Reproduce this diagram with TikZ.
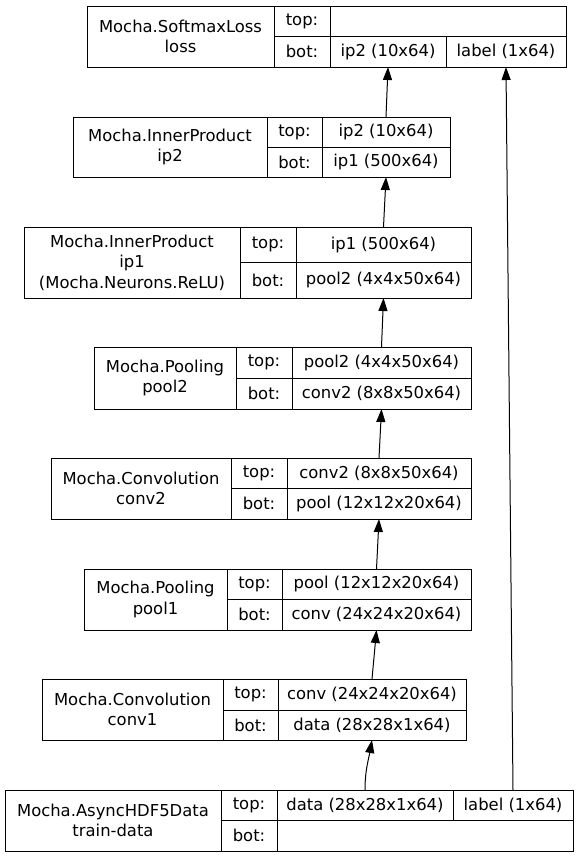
\documentclass[tikz,border=0pt]{standalone}
\usepackage{fontspec}
\setmainfont{DejaVu Sans}
\usetikzlibrary{arrows.meta}
\begin{document}
\begin{tikzpicture}[x=1pt,y=-1pt,line width=1pt,
  cell/.style={draw,inner sep=0pt,outer sep=0pt,anchor=north west,align=center,
    font=\fontsize{16.4}{20.5}\selectfont},
  arr/.style={-{Triangle[length=13pt,width=9pt]}}]
\useasboundingbox (0,0) rectangle (579,857);
\node[cell,minimum width=187,minimum height=61] (loss) at (87,6) {Mocha.SoftmaxLoss\\loss};
\node[cell,minimum width=56,minimum height=30] (loss-top) at (274,6) {top:};
\node[cell,minimum width=56,minimum height=31] (loss-bot) at (274,36) {bot:};
\node[cell,minimum width=236,minimum height=30] (loss-t1) at (330,6) {};
\node[cell,minimum width=116,minimum height=31] (loss-b1) at (330,36) {ip2 (10x64)};
\node[cell,minimum width=120,minimum height=31] (loss-b2) at (446,36) {label (1x64)};
\node[cell,minimum width=194,minimum height=60] (ip2) at (73,117) {Mocha.InnerProduct\\ip2};
\node[cell,minimum width=55,minimum height=30] (ip2-top) at (267,117) {top:};
\node[cell,minimum width=55,minimum height=30] (ip2-bot) at (267,147) {bot:};
\node[cell,minimum width=128,minimum height=30] (ip2-t1) at (322,117) {ip2 (10x64)};
\node[cell,minimum width=128,minimum height=30] (ip2-b1) at (322,147) {ip1 (500x64)};
\node[cell,minimum width=216,minimum height=71] (ip1) at (24,227) {Mocha.InnerProduct\\ip1\\(Mocha.Neurons.ReLU)};
\node[cell,minimum width=56,minimum height=35] (ip1-top) at (240,227) {top:};
\node[cell,minimum width=56,minimum height=36] (ip1-bot) at (240,262) {bot:};
\node[cell,minimum width=175,minimum height=35] (ip1-t1) at (296,227) {ip1 (500x64)};
\node[cell,minimum width=175,minimum height=36] (ip1-b1) at (296,262) {pool2 (4x4x50x64)};
\node[cell,minimum width=142,minimum height=62] (pool2) at (94,347) {Mocha.Pooling\\pool2};
\node[cell,minimum width=56,minimum height=31] (pool2-top) at (236,347) {top:};
\node[cell,minimum width=56,minimum height=31] (pool2-bot) at (236,378) {bot:};
\node[cell,minimum width=179,minimum height=31] (pool2-t1) at (292,347) {pool2 (4x4x50x64)};
\node[cell,minimum width=179,minimum height=31] (pool2-b1) at (292,378) {conv2 (8x8x50x64)};
\node[cell,minimum width=180,minimum height=61] (conv2) at (51,458) {Mocha.Convolution\\conv2};
\node[cell,minimum width=56,minimum height=30] (conv2-top) at (231,458) {top:};
\node[cell,minimum width=56,minimum height=31] (conv2-bot) at (231,488) {bot:};
\node[cell,minimum width=184,minimum height=30] (conv2-t1) at (287,458) {conv2 (8x8x50x64)};
\node[cell,minimum width=184,minimum height=31] (conv2-b1) at (287,488) {pool (12x12x20x64)};
\node[cell,minimum width=143,minimum height=61] (pool1) at (84,569) {Mocha.Pooling\\pool1};
\node[cell,minimum width=55,minimum height=30] (pool1-top) at (227,569) {top:};
\node[cell,minimum width=55,minimum height=31] (pool1-bot) at (227,599) {bot:};
\node[cell,minimum width=189,minimum height=30] (pool1-t1) at (282,569) {pool (12x12x20x64)};
\node[cell,minimum width=189,minimum height=31] (pool1-b1) at (282,599) {conv (24x24x20x64)};
\node[cell,minimum width=181,minimum height=61] (conv1) at (42,679) {Mocha.Convolution\\conv1};
\node[cell,minimum width=55,minimum height=31] (conv1-top) at (223,679) {top:};
\node[cell,minimum width=55,minimum height=30] (conv1-bot) at (223,710) {bot:};
\node[cell,minimum width=188,minimum height=31] (conv1-t1) at (278,679) {conv (24x24x20x64)};
\node[cell,minimum width=188,minimum height=30] (conv1-b1) at (278,710) {data (28x28x1x64)};
\node[cell,minimum width=216,minimum height=61] (data) at (5,790) {Mocha.AsyncHDF5Data\\train-data};
\node[cell,minimum width=56,minimum height=30] (data-top) at (221,790) {top:};
\node[cell,minimum width=56,minimum height=31] (data-bot) at (221,820) {bot:};
\node[cell,minimum width=176,minimum height=30] (data-t1) at (277,790) {data (28x28x1x64)};
\node[cell,minimum width=120,minimum height=30] (data-t2) at (453,790) {label (1x64)};
\node[cell,minimum width=296,minimum height=31] (data-b1) at (277,820) {};
\draw[arr] (data-t1.north) to[out=90,in=-100] (conv1-b1.south);
\draw[arr] (conv1-t1.north) -- (pool1-b1.south);
\draw[arr] (pool1-t1.north) -- (conv2-b1.south);
\draw[arr] (conv2-t1.north) -- (pool2-b1.south);
\draw[arr] (pool2-t1.north) -- (ip1-b1.south);
\draw[arr] (ip1-t1.north) -- (ip2-b1.south);
\draw[arr] (ip2-t1.north) -- (loss-b1.south);
\draw[arr] (data-t2.north) -- (loss-b2.south);
\end{tikzpicture}
\end{document}
